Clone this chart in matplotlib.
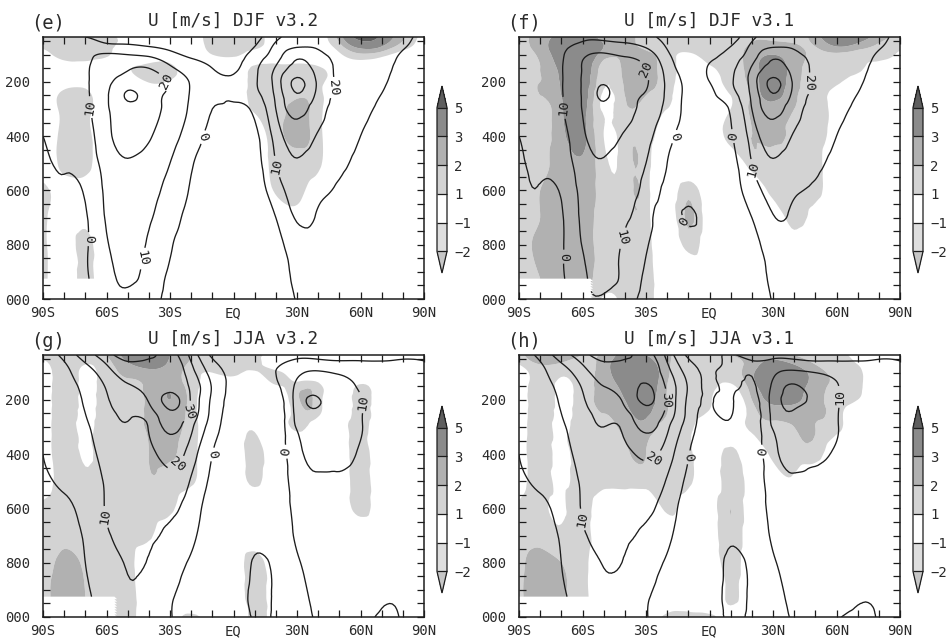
import numpy as np
import matplotlib
matplotlib.use("Agg")
import matplotlib.pyplot as plt
import matplotlib.tri as mtri
from matplotlib.ticker import MultipleLocator

# ---------------- grid ----------------
lats = [-90, -80, -70, -60, -50, -40, -30, -20, -10, 0, 10, 20, 30, 40, 50, 60, 70, 80, 90]
plevs = [35, 70, 100, 150, 200, 250, 300, 400, 500, 600, 700, 800, 925, 1000]

# region below the Antarctic surface that is left blank
topo_lat_edge = -55.5
topo_p_edge = 928

# ---------------- zonal wind U (m/s): one list per latitude, top -> bottom ----------------
u_djf_v32 = [
    [2, 4, 5, 5, 5, 4, 3, 0, -2, -3, -3, -3, -3, -3],
    [1, 5, 6, 6, 6, 6, 5, 3, 1, -1, -2, -2, -2, -2],
    [0, 6, 8, 9, 9, 9, 8, 6, 4, 1, -1, -1, -1, -1],
    [-4, 3, 11, 15, 17, 18.5, 18.5, 17, 14, 12, 11, 9, 7, 6],
    [-6, 2, 10, 19, 25, 31, 27, 24, 19, 16, 14, 13, 11, 8],
    [-7, 0, 8, 20, 24, 25, 24, 21, 16, 13, 11, 9, 7, 5],
    [-8, -3, 3, 12, 19, 18, 17, 14, 10, 7, 4, 1, -2, -4],
    [-9, -6, -2, 5, 9, 9, 8, 5, 1, -1, -3, -4, -5, -6],
    [-9, -8, -5, 0, 3, 2, 0, -2, -4, -5, -6, -6, -6, -6],
    [-9, -9, -6, -2, 2, 1, -1, -3, -4, -4, -4, -4, -4, -3],
    [-4, 0, 4, 8, 9, 7, 2, -2, -3, -3, -3, -3, -3, -3],
    [8, 12, 15, 21, 24, 22, 20, 14, 10, 5, 0, -2.5, -3, -3.5],
    [12, 19, 27, 34, 42, 39, 34, 25, 19, 14, 11, 5, 1.5, 0.5],
    [15, 19, 22, 26, 28, 27, 24, 19, 15, 12, 9, 6, 3, 2],
    [17, 18, 19, 19, 19, 18.5, 17, 14, 11.5, 9, 6, 4.5, 3, 2],
    [19, 18, 17, 16, 15, 14, 12.5, 10, 8, 6, 5, 4, 2.5, 1.5],
    [18, 16, 14, 12, 11, 9.8, 8.5, 7, 6, 5, 4, 3, 2, 1],
    [13, 11, 9, 8, 7, 6, 5, 4, 3.5, 3, 2.5, 2, 1, 1],
    [7, 6, 5, 4, 3, 3, 3, 2, 2, 2, 1, 1, 1, 1],
]

u_djf_v31 = [
    [2, 4, 5, 5, 5, 4, 3, 0, -2, -3, -3, -3, -3, -3],
    [4, 6, 7, 7, 7, 7, 6, 4, 2, -0.5, -1.5, -2, -2, -2],
    [6, 8, 9, 9.5, 9.5, 9.5, 9, 7, 5, 1, -1, -1, -1, -1],
    [8, 13, 18, 20.5, 21, 21, 20.5, 18, 15, 13, 12, 10.5, 8, 7],
    [7, 15, 21, 25, 29, 31, 28, 24, 19, 16, 14, 13, 12, 9],
    [6, 13, 19, 23, 25, 24, 23, 19, 15, 13, 11, 9, 8, 5],
    [3, 9, 15, 20, 21, 19, 17, 13, 10, 7, 4, 1, -2, -4],
    [-4, -1, 2, 6, 8, 8, 7, 3, 0, -2, -4, -5, -6, -6],
    [-9, -9, -7, -4, -2, -2, -2, -3, -4, -3, 1, -4, -6, -6],
    [-9, -8, -4, 1, 0, -2, -3, -4, -4, -4, -4, -4, -4, -3],
    [-5, 0, 4, 8, 9, 6, 1, -1, -3, -3, -3, -3, -3, -3],
    [8, 12, 15, 21, 24, 22, 20, 14, 10, 5, 0, -2.5, -3, -3.5],
    [12, 19, 27, 34, 42, 39, 34, 25, 19, 13, 9.5, 5, 1.5, 0.5],
    [15, 19, 22, 26, 28, 27, 24, 19, 15, 11, 8.5, 6, 3, 2],
    [17, 18, 19, 19, 19, 18.5, 17, 14, 11.5, 9, 6, 4.5, 3, 2],
    [19, 18, 17, 16, 15, 14, 12.5, 10, 8, 6, 5, 4, 2.5, 1.5],
    [18, 16, 14, 12, 11, 9.8, 8.5, 7, 6, 5, 4, 3, 2, 1],
    [13, 11, 9, 8, 7, 6, 5, 4, 3.5, 3, 2.5, 2, 1, 1],
    [7, 6, 5, 4, 3, 3, 3, 2, 2, 2, 1, 1, 1, 1],
]

u_jja_v32 = [
    [3, 2, 2, 2, 2, 2, 1, 0, -1, -2, -3, -3, -3, -3],
    [13, 9, 8, 7, 6, 6, 5, 3, 1, -1, -2, -2, -2, -2],
    [25, 19, 15, 12, 11, 10, 9, 7, 5, 3, 1, 0, -1, -1],
    [36, 30, 26, 21, 19, 17, 15, 13, 11, 10.5, 9, 6, 4, 3],
    [45, 38, 34, 29, 24, 21, 19, 16, 14, 12, 11, 10.5, 9, 6],
    [42, 38, 36, 33, 31, 25, 20.5, 17, 14, 12, 11, 9.5, 7, 5],
    [35, 38, 38, 37, 43, 38, 33, 24, 17, 12, 8, 4, 1, 0.5],
    [17, 21, 24, 28, 29, 27, 22, 15, 9, 5, 2, -1, -3, -4],
    [-2, 3, 6, 9, 8, 7, 5, 0, -2, -4, -5, -6, -7, -7],
    [-5, -3, -2, -2, -3, -4, -5, -6, -6, -6, -6, -5, -5, -4],
    [-3, -2, -2, -3, -6, -8, -8, -6, -4, -3, -2, 0.5, 1.5, 0.5],
    [-4, -1, 0, -2, -6, -8, -8, -6, -4, -3, -2, -1, -1, -1],
    [-3, 4, 8, 12, 14, 13, 11, 7, 4, 2, 0.8, -0.5, -1.5, -2],
    [-4, 5, 11, 16, 20.5, 18, 15, 12, 9, 6, 4, 2, 1, 0.5],
    [-4, 3, 9, 13, 15, 15, 14, 12, 9, 7, 5, 3, 2, 1],
    [-3, 2, 6, 9, 10.5, 10.5, 10.5, 9, 7, 5, 4, 3, 2, 1],
    [-2, 1, 3, 5, 6, 6, 6, 5, 4, 3, 2, 1.5, 0.5, -0.5],
    [-1, 1, 2, 3, 3, 3, 3, 3, 2, 2, 1, 1, 0.5, 0.3],
    [-1, 0.5, 1, 1.5, 1.5, 1.5, 1.5, 1.5, 1, 1, 1, 0.5, 0.5, 0.5],
]

u_jja_v31 = [
    [3, 2, 2, 2, 2, 2, 1, 0, -1, -2, -3, -3, -3, -3],
    [13, 9, 8, 7, 6, 6, 5, 3, 1, -1, -2, -2, -2, -2],
    [25, 19, 15, 12, 11, 10, 9, 7, 5, 3, 1, 0, -1, -1],
    [36, 30, 26, 21, 19, 17, 15, 13, 11, 10.5, 9, 6, 4, 3],
    [45, 38, 34, 30, 25, 22, 20, 17, 14, 12, 11, 10.3, 8, 5],
    [42, 38, 36, 34, 32, 27, 22, 18, 15, 12.5, 11, 9.5, 7, 5],
    [35, 38, 38, 41, 42, 37, 33, 22, 16, 12, 8, 4, 1, 0.5],
    [17, 21, 24, 28, 29, 27, 22, 15, 9, 5, 2, -1, -3, -4],
    [-2, 3, 6, 9, 8, 7, 5, 0.5, -2, -4, -5, -6, -7, -7],
    [-3, -2, -1, -1.5, -0.8, -2, -4, -5, -5, -5, -5, -4, -4, -3],
    [0.5, 1, 1.5, 1.5, 1, 0.8, -3, -5, -4, -3, -1, 1, 1.5, 0.5],
    [-3, 1, 0.5, -1, -4, -6, -7, -6, -4, -3, -2, -1, -1, -1],
    [-3, 4, 8, 12, 14, 13, 11, 7, 4, 2, 0.8, -0.5, -1.5, -2],
    [-4, 5, 12, 21, 22, 19, 15, 12, 9, 6, 4, 2, 1, 0.5],
    [-4, 3, 10, 15, 18, 16, 14, 11, 9, 7, 5, 3, 2, 1],
    [-3, 2, 7, 10.5, 11, 10.5, 10.5, 9, 7, 5, 4, 3, 2, 0.3],
    [-2, 1, 3, 5, 6, 6, 6, 5, 4, 3, 2, 1.5, 0.5, -1],
    [-1, 1, 2, 3, 3, 3, 3, 3, 2, 2, 1, 1, 0.5, 0.3],
    [-1, 0.5, 1, 1.5, 1.5, 1.5, 1.5, 1.5, 1, 1, 1, 0.5, 0.5, 0.5],
]

# ---------------- shaded difference (m/s): one row per pressure level, 90S -> 90N ----------------
du_djf_v32 = [
    [1.5, 1.6, 1.6, 1.5, 0.3, 0, 0, 0.3, 1.5, 1.6, 1.5, 0.3, 0, 0.5, 2.5, 6.0, 4.5, 2.2, 0.5],
    [1.2, 1.5, 1.5, 1.4, 0.3, 0, 0, 0, 1.5, 1.6, 1.4, 0, 0, 0.3, 1.6, 3.5, 3.0, 1.5, 0.3],
    [0.5, 1.4, 1.5, 1.2, 0, 0, 0, 0, 1.0, 1.2, 0.5, 0, 0, 0, 0.8, 1.8, 1.4, 0.5, 0],
    [0, 0.3, 0.3, 0, 0.8, 1.6, 1.5, 0, 0, 0, 1.3, 1.5, 1.5, 1.2, 0.5, 0.3, 0, 0, 0],
    [0, 0.3, 0.4, 0, 0, 1.1, 0.8, 0, 0, 0, 1.5, 1.5, 1.5, 1.3, 0.3, 0, 0, 0, 0],
    [0, 1.4, 1.5, 0, 0, 0, 0, 0, 0, 0, 1.5, 1.5, 1.8, 1.4, 0, 0, 0, 0, 0],
    [0, 1.4, 1.5, 0, 0, 0, 0, 0, 0, 0, 1.2, 1.6, 2.3, 1.4, 0, 0, 0, 0, 0],
    [0, 1.4, 1.5, 0, 0, 0, 0, 0, 0, 0, 0.3, 1.6, 2.3, 1.4, 0, 0, 0, 0, 0],
    [0, 1.4, 1.5, 0, 0, 0, 0, 0, 0, 0, 0, 1.5, 1.6, 1.2, 0, 0, 0, 0, 0],
    [1.5, 0.5, 0.3, 0, 0, 0, 0, 0, 0, 0, 0, 1.2, 1.4, 0.5, 0, 0, 0, 0, 0],
    [1.5, 0.3, 0.6, 0, 0, 0, 0, 0, 0, 0, 0, 0, 0.5, 0, 0, 0, 0, 0, 0],
    [1.5, 0.3, 1.3, 0, 0, 0, 0, 0, 0, 0, 0, 0, 0, 0, 0, 0, 0, 0, 0],
    [1.5, 0.3, 1.3, 0, 0, 0, 0, 0, 0, 0, 0, 0, 0, 0, 0, 0, 0, 0, 0],
    [1.5, 0.3, 1.3, 0, 0, 0, 0, 0, 0, 0, 0, 0, 0, 0, 0, 0, 0, 0, 0],
]

du_djf_v31 = [
    [1.5, 2.5, 3.5, 3.8, 2.5, 2.2, 1.6, 1.5, 1.5, 1.5, 1.5, 1.8, 1.6, 1.6, 2.5, 4.5, 4.0, 2.5, 1.5],
    [1.5, 2.5, 4.0, 4.5, 3.0, 2.2, 1.8, 1.5, 1.5, 1.5, 1.5, 2.2, 2.5, 2.2, 2.0, 3.0, 2.5, 1.8, 1.2],
    [1.5, 2.2, 4.0, 4.5, 2.5, 2.2, 2.2, 1.5, 0.8, 1.5, 1.5, 2.5, 3.0, 2.5, 1.8, 1.8, 1.5, 1.4, 0.8],
    [1.5, 2.0, 3.5, 4.2, 1.5, 2.3, 2.5, 1.5, 0.5, 0.8, 1.5, 2.5, 3.5, 2.5, 1.6, 1.5, 1.2, 0.6, 0.3],
    [1.5, 2.0, 3.2, 4.0, 1.2, 2.2, 2.5, 1.5, 0.3, 0.5, 1.3, 2.4, 3.6, 2.4, 1.6, 1.2, 0.5, 0.3, 0],
    [1.5, 2.0, 3.0, 3.8, 0.8, 2.0, 2.0, 1.3, 0, 0.3, 1.0, 2.2, 3.4, 2.2, 1.5, 0.6, 0.3, 0, 0],
    [1.5, 1.8, 2.8, 3.6, 0.8, 1.8, 1.6, 1.0, 0.3, 0, 1.0, 2.2, 2.6, 2.0, 1.5, 0.6, 0, 0, 0],
    [1.5, 1.8, 2.6, 3.4, 1.0, 1.6, 1.5, 0.5, 0, 0, 1.5, 2.0, 2.3, 1.8, 1.5, 0.5, 0, 0, 0],
    [1.5, 1.8, 2.4, 2.8, 1.3, 1.5, 1.5, 0, 0, 0, 0, 1.5, 1.6, 1.6, 1.5, 0, 0, 0, 0],
    [1.5, 2.0, 2.5, 2.6, 1.5, 1.5, 1.5, 0, 1.6, 0, 0, 0, 1.4, 1.5, 1.4, 0, 0, 0, 0],
    [1.5, 2.0, 2.5, 2.5, 1.5, 1.5, 1.5, 0, 2.2, 0, 0, 0, 0, 1.4, 0.5, 0, 0, 0, 0],
    [1.5, 2.2, 2.5, 2.5, 1.5, 1.5, 1.5, 0, 1.4, 0, 0, 0, 0, 0.5, 0, 0, 0, 0, 0],
    [1.5, 2.0, 2.4, 2.4, 1.5, 1.5, 1.5, 0, 0, 0, 0, 0, 0, 0, 0, 0, 0, 0, 0],
    [1.5, 2.0, 2.4, 2.4, 0.8, 1.5, 1.5, 0, 0, 0, 0, 0, 0, 0, 0, 0, 0, 0, 0],
]

du_jja_v32 = [
    [1.5, 1.5, 1.5, 2.0, 3.5, 4.0, 3.0, 2.0, 1.5, 1.8, 1.5, 0.3, 0, 0, 0, 0, 0, 0, 0],
    [0.5, 1.5, 1.0, 1.6, 2.8, 3.5, 2.8, 1.8, 1.5, 1.5, 1.4, 0, 0, 0, 0, 0, 0, 0, 0],
    [0, 1.5, 0.8, 1.5, 2.2, 2.6, 2.5, 1.5, 1.0, 1.3, 0.8, 1.4, 0, 0, 0, 0, 0, 0, 0],
    [0, 1.5, 0.8, 1.5, 1.9, 2.2, 2.8, 1.5, 0.5, 0, 0, 0.8, 1.5, 1.4, 0, 1.2, 0, 0, 0],
    [0, 1.5, 0.8, 1.5, 1.8, 2.2, 3.0, 1.6, 0, 0, 0, 0, 1.8, 1.5, 0, 1.5, 0, 0, 0],
    [0, 1.5, 0.8, 1.5, 1.8, 2.2, 2.8, 1.5, 0, 0, 0, 0, 1.5, 1.3, 0, 1.5, 0, 0, 0],
    [0, 1.5, 0.8, 1.5, 1.8, 2.1, 2.4, 1.5, 0, 0, 0.8, 0, 1.3, 0, 0, 1.5, 0, 0, 0],
    [0, 1.5, 0.9, 1.5, 1.7, 2.0, 2.1, 1.4, 0, 0, 1.4, 0, 0, 0, 0, 1.5, 0, 0, 0],
    [0, 1.5, 1.2, 1.5, 1.6, 1.9, 1.7, 1.2, 0, 0, 1.2, 0, 0, 0, 0, 1.5, 0, 0, 0],
    [1.5, 1.5, 1.2, 1.5, 1.5, 1.5, 1.3, 0, 0, 0, 0, 0, 0, 0, 0, 1.4, 0, 0, 0],
    [1.5, 1.8, 1.4, 1.5, 1.5, 1.2, 0, 0, 0, 0, 0, 0, 0, 0, 0, 0, 0, 0, 0],
    [1.5, 2.2, 1.8, 1.5, 1.5, 0, 0, 0, 0, 0, 1.5, 0, 0, 0, 0, 0, 0, 0, 0],
    [1.5, 2.5, 2.0, 1.5, 1.5, 0, 0, 0, 0, 0, 1.6, 0, 0, 0, 0, 0, 0, 0, 0],
    [1.5, 2.5, 2.0, 1.5, 1.4, 0, 0, 1.4, 0, 0, 1.4, 0, 0, 0, 0, 0, 0, 0, 0],
]

du_jja_v31 = [
    [1.5, 3.0, 3.0, 2.0, 2.2, 3.5, 3.0, 2.2, 1.5, 1.5, 2.0, 2.5, 2.5, 2.0, 1.5, 1.4, 0.5, 0, 0],
    [1.0, 2.0, 1.8, 1.5, 2.5, 4.0, 3.8, 2.2, 1.5, 1.5, 1.5, 2.5, 3.5, 3.0, 2.0, 1.5, 1.0, 0, 0],
    [0, 1.5, 1.2, 1.5, 2.5, 4.0, 4.2, 2.2, 1.5, 1.5, 1.4, 2.8, 4.0, 3.8, 2.5, 1.8, 1.3, 0, 0],
    [0, 1.5, 0.8, 1.5, 2.3, 3.5, 4.0, 2.0, 1.5, 1.4, 0.8, 2.5, 3.8, 3.6, 2.5, 1.8, 1.3, 0, 0],
    [0, 1.5, 0.8, 1.5, 2.2, 3.0, 3.6, 2.0, 1.5, 1.2, 0, 2.0, 3.2, 3.2, 2.4, 1.6, 1.0, 0, 0],
    [0, 1.5, 0.8, 1.5, 2.0, 2.6, 3.2, 2.0, 1.5, 0.8, 0, 1.5, 2.5, 2.5, 2.2, 1.5, 0, 0, 0],
    [0, 1.5, 0.8, 1.5, 1.8, 2.3, 2.6, 1.8, 1.5, 0, 0, 1.4, 1.8, 2.0, 2.0, 1.4, 0, 0, 0],
    [0, 1.5, 0.8, 1.5, 1.5, 1.8, 2.0, 1.6, 1.5, 0, 1.4, 0, 1.4, 1.5, 1.5, 0, 0, 0, 0],
    [0, 1.5, 0.8, 1.5, 1.4, 1.4, 1.4, 1.4, 1.4, 0, 1.8, 0, 0, 0.8, 0, 0, 0, 0, 0],
    [1.5, 1.5, 0.8, 1.5, 0, 0, 0, 1.2, 0, 0, 2.0, 0, 0, 0, 0, 0, 0, 0, 0],
    [1.5, 1.6, 1.3, 1.5, 0, 0, 0, 0, 0, 0, 1.8, 0, 0, 0, 0, 0, 0, 0, 0],
    [1.5, 2.5, 2.0, 1.4, 0, 0, 0, 0, 0, 0, 1.5, 0, 0, 0, 0, 0, 0, 0, 0],
    [1.5, 3.0, 2.2, 1.4, 0, 0, 0, 0, 0, 0, 1.2, 0, 0, 0, 0, 0, 0, 0, 0],
    [1.5, 3.0, 2.2, 1.4, 0, 0, 0, 1.4, 1.4, 1.4, 0, 0, 0, 0, 0, 0, 0, 0, 0],
]

# ---------------- contour labels: (level, lat, p) ----------------
labels_e = [(10, -65, 290), (20, -33, 205), (0, -16, 400), (0, -67, 780),
            (10, -43.5, 850), (10, 19, 515), (20, 48.7, 222)]
labels_f = [(10, -68.7, 296), (20, -30, 155), (0, -17.5, 400), (0, 11, 400),
            (0, -68.6, 844), (10, -43.5, 770), (10, 20.3, 525), (20, 48.7, 204), (0, -10, 706)]
labels_g = [(30, -23.8, 237), (20, -27, 434), (0, -11, 400), (0, 25, 391),
            (10, -60, 631), (10, 58, 212)]
labels_h = [(30, -23, 200), (20, -26, 422), (0, -12, 409), (0, 25, 391),
            (10, -61.6, 643), (10, 59, 188)]

panel_tags = ["(e)", "(f)", "(g)", "(h)"]
panel_titles = ["U [m/s] DJF v3.2", "U [m/s] DJF v3.1", "U [m/s] JJA v3.2", "U [m/s] JJA v3.1"]

shade_levels = [-2, -1, 1, 2, 3, 5]
shade_ticklabels = ["\u22122", "\u22121", "1", "2", "3", "5"]
shade_colors = ["#c6c6c6", "#dedede", "#ffffff", "#d3d3d3", "#b1b1b1", "#8b8b8b", "#5e5e5e"]
contour_levels = [0, 10, 20, 30, 40]

lat_ticks = [-90, -60, -30, 0, 30, 60, 90]
lat_ticklabels = ["90S", "60S", "30S", "EQ", "30N", "60N", "90N"]
p_ticks = [200, 400, 600, 800, 1000]
p_ticklabels = ["200", "400", "600", "800", "000"]

# ---------------- smooth triangulated grid (matplotlib tri refiner) ----------------
ny, nx = len(plevs), len(lats)
LAT, P = np.meshgrid(np.array(lats, float), np.array(plevs, float))
aspect = 262.0 / 381.0
xn = (LAT.ravel() - lats[0]) / (lats[-1] - lats[0])
yn = (P.ravel() - plevs[0]) / (plevs[-1] - plevs[0]) * aspect
idx = np.arange(ny * nx).reshape(ny, nx)
a, b = idx[:-1, :-1].ravel(), idx[:-1, 1:].ravel()
c, d = idx[1:, :-1].ravel(), idx[1:, 1:].ravel()
tris = np.concatenate([np.stack([a, b, d], 1), np.stack([a, d, c], 1)])
tri_n = mtri.Triangulation(xn, yn, tris)
refiner = mtri.UniformTriRefiner(tri_n)


def smooth(field):
    z = np.asarray(field, float).ravel()
    interp = mtri.CubicTriInterpolator(tri_n, z, kind="min_E")
    tri_r, z_r = refiner.refine_field(z, triinterpolator=interp, subdiv=3)
    lat_r = tri_r.x * (lats[-1] - lats[0]) + lats[0]
    p_r = tri_r.y / aspect * (plevs[-1] - plevs[0]) + plevs[0]
    tri_d = mtri.Triangulation(lat_r, p_r, tri_r.triangles)
    cx = lat_r[tri_r.triangles].mean(axis=1)
    cy = p_r[tri_r.triangles].mean(axis=1)
    tri_d.set_mask((cx < topo_lat_edge) & (cy > topo_p_edge))
    return tri_d, np.asarray(z_r)


# ---------------- figure ----------------
plt.rcParams["font.family"] = ["DejaVu Sans Mono", "DejaVu Sans"]
TXT = "#2a2a2a"
LINE = "#1c1c1c"
fig = plt.figure(figsize=(9.52, 6.41), dpi=100)

W, H = 952.0, 641.0
ax_rects = [
    [43 / W, 1 - 299 / H, 381 / W, 262 / H],
    [519 / W, 1 - 299 / H, 381 / W, 262 / H],
    [43 / W, 1 - 617 / H, 381 / W, 262 / H],
    [519 / W, 1 - 617 / H, 381 / W, 262 / H],
]
cb_rects = [
    [437 / W, 1 - 273 / H, 10 / W, 187 / H],
    [913 / W, 1 - 273 / H, 10 / W, 187 / H],
    [437 / W, 1 - 593 / H, 10 / W, 187 / H],
    [913 / W, 1 - 593 / H, 10 / W, 187 / H],
]

u_fields = [u_djf_v32, u_djf_v31, u_jja_v32, u_jja_v31]
d_fields = [du_djf_v32, du_djf_v31, du_jja_v32, du_jja_v31]
label_sets = [labels_e, labels_f, labels_g, labels_h]

for i in range(4):
    ax = fig.add_axes(ax_rects[i])
    U = np.array(u_fields[i], dtype=float).T      # -> (plev, lat)
    D = np.array(d_fields[i], dtype=float)         # (plev, lat)

    tri_d, d_s = smooth(D)
    tri_u, u_s = smooth(U)

    cf = ax.tricontourf(tri_d, d_s, levels=shade_levels, colors=shade_colors,
                        extend="both", antialiased=True)

    for lev in contour_levels:
        cs = ax.tricontour(tri_u, u_s, levels=[lev], colors=LINE, linewidths=0.95)
        pts = [(la, pp) for (lv, la, pp) in label_sets[i] if lv == lev]
        if pts and len(cs.allsegs[0]) > 0:
            ax.clabel(cs, manual=pts, inline=True, inline_spacing=3,
                      fmt="%d", fontsize=9.5, colors=LINE)

    ax.set_xlim(-90, 90)
    ax.set_ylim(1000, 35)
    ax.set_xticks(lat_ticks)
    ax.set_xticklabels(lat_ticklabels)
    ax.set_yticks(p_ticks)
    ax.set_yticklabels(p_ticklabels)
    ax.xaxis.set_minor_locator(MultipleLocator(10))
    ax.yaxis.set_minor_locator(MultipleLocator(50))
    ax.tick_params(which="both", direction="in", top=True, right=True,
                   length=5, width=0.9, color=LINE)
    ax.tick_params(axis="x", labelsize=10, pad=5, labelcolor=TXT)
    ax.tick_params(axis="y", labelsize=10, pad=9, labelcolor=TXT)
    for sp in ax.spines.values():
        sp.set_linewidth(1.1)
        sp.set_color(LINE)

    ax.text(0.5, 1.063, panel_titles[i], transform=ax.transAxes, ha="center",
            va="center", fontsize=12.8, color=TXT)
    ax.text(-0.032, 1.052, panel_tags[i], transform=ax.transAxes, ha="left",
            va="center", fontsize=13.5, color=TXT)

    cax = fig.add_axes(cb_rects[i])
    cb = fig.colorbar(cf, cax=cax, extend="both", extendfrac=0.15, drawedges=True,
                      ticks=shade_levels)
    cb.set_ticklabels(shade_ticklabels)
    cb.ax.tick_params(length=0, labelsize=10, pad=5, labelcolor=TXT)
    cb.outline.set_linewidth(0.9)
    cb.outline.set_edgecolor(LINE)
    cb.dividers.set_linewidth(0.9)
    cb.dividers.set_color(LINE)

fig.savefig("out.png", dpi=100)
